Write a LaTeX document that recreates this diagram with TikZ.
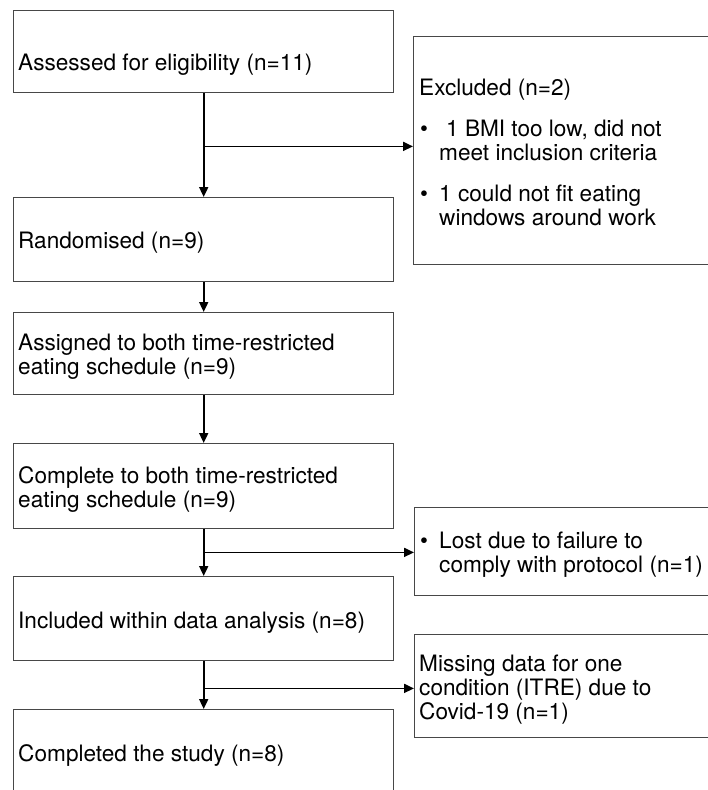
\documentclass[tikz,border=0pt]{standalone}
\usepackage{fontspec}
\setmainfont{TeX Gyre Heros}
\usetikzlibrary{arrows.meta}
\begin{document}
\begin{tikzpicture}[x=1pt,y=-1pt,
  box/.style={draw=black!72, line width=1.4pt, rectangle, anchor=north west, inner sep=0pt, minimum width=380pt},
  sidebox/.style={box, minimum width=320pt},
  txt/.style={anchor=base west, inner sep=0pt, font=\fontsize{22.6}{24}\selectfont},
  arr/.style={-{Triangle[length=10pt,width=9pt]}, line width=1.8pt, black}]
\useasboundingbox (0,0) rectangle (708,790);
\clip (0,0) rectangle (708,790);
% left column boxes
\node[box, minimum height=82pt] (b1) at (13,10) {};
\node[box, minimum height=84pt] (b2) at (13,197) {};
\node[box, minimum height=82pt] (b3) at (13,312) {};
\node[box, minimum height=85pt] (b4) at (13,443) {};
\node[box, minimum height=84pt] (b5) at (13,576) {};
\node[box, minimum height=120pt] (b6) at (13,709) {};
% side boxes
\node[sidebox, minimum height=228pt] (exc) at (413,36) {};
\node[sidebox, minimum height=88pt] (lost) at (414,507) {};
\node[sidebox, minimum height=103pt] (miss) at (414,634) {};
% texts
\node[txt] (t1) at (18,70) {Assessed for eligibility (n=11)};
\node[txt] (t2) at (18,248) {Randomised (n=9)};
\node[txt] (t3) at (18,350) {\begin{tabular}[t]{@{}l@{}}Assigned to both time-restricted\\eating schedule (n=9)\end{tabular}};
\node[txt] (t4) at (18,483) {\begin{tabular}[t]{@{}l@{}}Complete to both time-restricted\\eating schedule (n=9)\end{tabular}};
\node[txt] (t5) at (18,628) {Included within data analysis (n=8)};
\node[txt] (t6) at (18,761) {Completed the study (n=8)};
\node[txt] (te) at (419,95) {Excluded (n=2)};
\node[txt] (be1) at (420,136) {\textbullet};
\node[txt] (te1) at (439,136) {\begin{tabular}[t]{@{}l@{}}\hspace{7pt}1 BMI too low, did not\\meet inclusion criteria\end{tabular}};
\node[txt] (be2) at (420,201) {\textbullet};
\node[txt] (te2) at (439,201) {\begin{tabular}[t]{@{}l@{}}1 could not fit eating\\windows around work\end{tabular}};
\node[txt] (bl) at (420,548) {\textbullet};
\node[txt] (tl) at (439,548) {\begin{tabular}[t]{@{}l@{}}Lost due to failure to\\comply with protocol (n=1)\end{tabular}};
\node[txt] (tm) at (419,671) {\begin{tabular}[t]{@{}l@{}}Missing data for one\\condition (ITRE) due to\\Covid-19 (n=1)\end{tabular}};
% connectors
\draw[arr] (b1.south) -- (b2.north);
\draw[arr] (b2.south) -- (b3.north);
\draw[arr] (b3.south) -- (b4.north);
\draw[arr] (b4.south) -- (b5.north);
\draw[arr] (b5.south) -- (b6.north);
\path (b1.south) ++(0,53) coordinate (j1);
\path (b4.south) ++(0,23) coordinate (j2);
\path (b5.south) ++(0,27) coordinate (j3);
\draw[arr] (j1) -- (j1 -| exc.west);
\draw[arr] (j2) -- (j2 -| lost.west);
\draw[arr] (j3) -- (j3 -| miss.west);
\end{tikzpicture}
\end{document}
